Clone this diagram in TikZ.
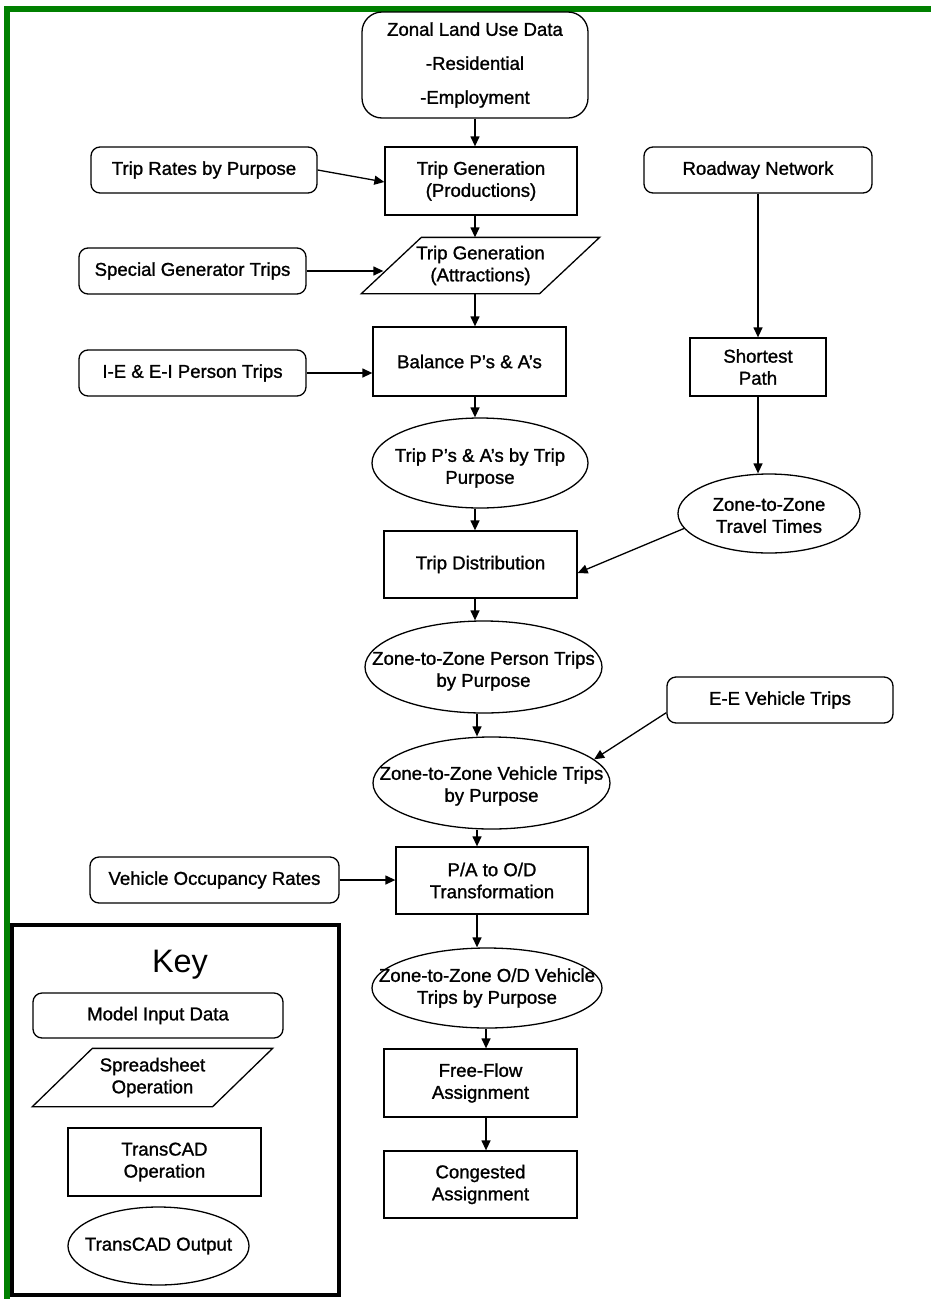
\documentclass[tikz,border=0pt]{standalone}
\usepackage{fontspec}
\setmainfont{Liberation Sans}[FakeBold=1.2]
\newfontfamily\keyfont{Liberation Sans}
\usetikzlibrary{arrows.meta,shapes.geometric,calc}
\definecolor{bordergreen}{RGB}{0,128,0}
\begin{document}
\begin{tikzpicture}[x=1pt,y=-1pt,
  every node/.style={font=\fontsize{18.6}{22}\selectfont, align=center, inner sep=0pt, line width=1.3pt},
  rbox/.style={draw, rounded corners=9pt, minimum height=46pt},
  sbox/.style={draw, rectangle},
  oval/.style={draw, ellipse},
  para/.style={rectangle},
  shapeline/.style={line width=1.3pt, line join=miter},
  arr/.style={line width=1.3pt, -{Triangle[length=10pt,width=9pt]}}
]
\useasboundingbox (0,0) rectangle (931,1299);
% green frame
\draw[bordergreen, line width=6pt] (7,1299) -- (7,9) -- (935,9);

% main column
\node (zonal) [rbox, rounded corners=20pt, minimum width=226pt, minimum height=106pt, font=\fontsize{18.6}{34}\selectfont] at (475,65) {Zonal Land Use Data\\-Residential\\-Employment};
\node (rates) [rbox, minimum width=226pt] at (204,170) {Trip Rates by Purpose};
\node (tgp) [sbox, minimum width=192pt, minimum height=68pt] at (481,181) {Trip Generation\\(Productions)};
\node (road) [rbox, minimum width=228pt] at (758,170) {Roadway Network};
\node (special) [rbox, minimum width=227pt] at (192.5,271) {Special Generator Trips};
\node (tga) [para, minimum width=177pt, minimum height=55pt] at (480.5,265.5) {Trip Generation\\(Attractions)};
\draw[shapeline] ([xshift=-30pt]tga.south west) -- ([xshift=-30pt]tga.south east) -- ([xshift=30pt]tga.north east) -- ([xshift=30pt]tga.north west) -- cycle;
\node (ie) [rbox, minimum width=227pt] at (192.5,373) {I-E \& E-I Person Trips};
\node (bal) [sbox, minimum width=193pt, minimum height=69pt] at (469.5,361.5) {Balance P’s \& A’s};
\node (short) [sbox, minimum width=136pt, minimum height=58pt] at (758,367) {Shortest\\Path};
\node (tpa) [oval, minimum width=216pt, minimum height=90pt, label={[yshift=-5pt]center:Trip P’s \& A’s by Trip\\Purpose}] at (480,463) {};
\node (tt) [oval, minimum width=182pt, minimum height=79pt, label={[yshift=-2pt]center:Zone-to-Zone\\Travel Times}] at (769,513.5) {};
\node (td) [sbox, minimum width=193pt, minimum height=67pt] at (480.5,564.5) {Trip Distribution};
\node (ztp) [oval, minimum width=237pt, minimum height=92pt, label={[yshift=-4pt]center:Zone-to-Zone Person Trips\\by Purpose}] at (483.5,667) {};
\node (ee) [rbox, minimum width=226pt] at (780,700) {E-E Vehicle Trips};
\node (ztv) [oval, minimum width=237pt, minimum height=92pt, label={[yshift=-3pt]center:Zone-to-Zone Vehicle Trips\\by Purpose}] at (491.5,783) {};
\node (paod) [sbox, minimum width=192pt, minimum height=67pt] at (492,880.5) {P/A to O/D\\Transformation};
\node (veh) [rbox, minimum width=249pt] at (214.5,880) {Vehicle Occupancy Rates};
\node (zod) [oval, minimum width=230pt, minimum height=80pt, label={center:Zone-to-Zone O/D Vehicle\\Trips by Purpose}] at (487,988) {};
\node (ff) [sbox, minimum width=193pt, minimum height=68pt] at (480.5,1083) {Free-Flow\\Assignment};
\node (cong) [sbox, minimum width=193pt, minimum height=67pt] at (480.5,1184.5) {Congested\\Assignment};

% key
\node (keybox) [draw, line width=4pt, minimum width=327pt, minimum height=370pt] at (175.5,1110) {};
\node (keyt) [font=\keyfont\fontsize{32.5}{36}\selectfont] at (180,965) {Key};
\node (kin) [rbox, minimum width=250pt, minimum height=45pt] at (158,1015.5) {Model Input Data};
\node (kss) [para, minimum width=179pt, minimum height=57pt] at (152.5,1077.5) {Spreadsheet\\Operation};
\draw[shapeline] ([xshift=-30pt]kss.south west) -- ([xshift=-30pt]kss.south east) -- ([xshift=30pt]kss.north east) -- ([xshift=30pt]kss.north west) -- cycle;
\node (kop) [sbox, minimum width=193pt, minimum height=68pt] at (164.5,1162) {TransCAD\\Operation};
\node (kout) [oval, minimum width=181pt, minimum height=78pt, label={center:TransCAD Output}] at (158.5,1246) {};

% connectors
\coordinate (cA) at (475,0);
\coordinate (cB) at (477,0);
\coordinate (cC) at (486,0);
\draw[arr] (zonal.south -| cA) -- (tgp.north -| cA);
\draw[arr] (rates.east) -- ([yshift=-1pt]tgp.west);
\draw[arr] (tgp.south -| cA) -- (tga.north -| cA);
\draw[arr] (special.east) -- ([xshift=-8pt]special.east -| tga.west);
\draw[arr] (tga.south -| cA) -- (bal.north -| cA);
\draw[arr] (ie.east) -- (ie.east -| bal.west);
\draw[arr] (bal.south -| cA) -- (tpa.north -| cA);
\draw[arr] (road.south) -- (short.north);
\draw[arr] (short.south) -- (short.south |- tt.north);
\draw[arr] (tpa.south -| cA) -- (td.north -| cA);
\draw[arr] (tt.190) -- ([yshift=-8.5pt]td.east);
\draw[arr] (td.south -| cA) -- (ztp.north -| cA);
\draw[arr] (ztp.south -| cB) -- (ztv.north -| cB);
\draw[arr] ([yshift=11pt]ee.south west) -- (ztv.13);
\draw[arr] (ztv.south -| cB) -- (paod.north -| cB);
\draw[arr] (veh.east) -- (veh.east -| paod.west);
\draw[arr] (paod.south -| cB) -- (zod.north -| cB);
\draw[arr] (zod.south -| cC) -- (ff.north -| cC);
\draw[arr] (ff.south -| cC) -- (cong.north -| cC);
\end{tikzpicture}
\end{document}
